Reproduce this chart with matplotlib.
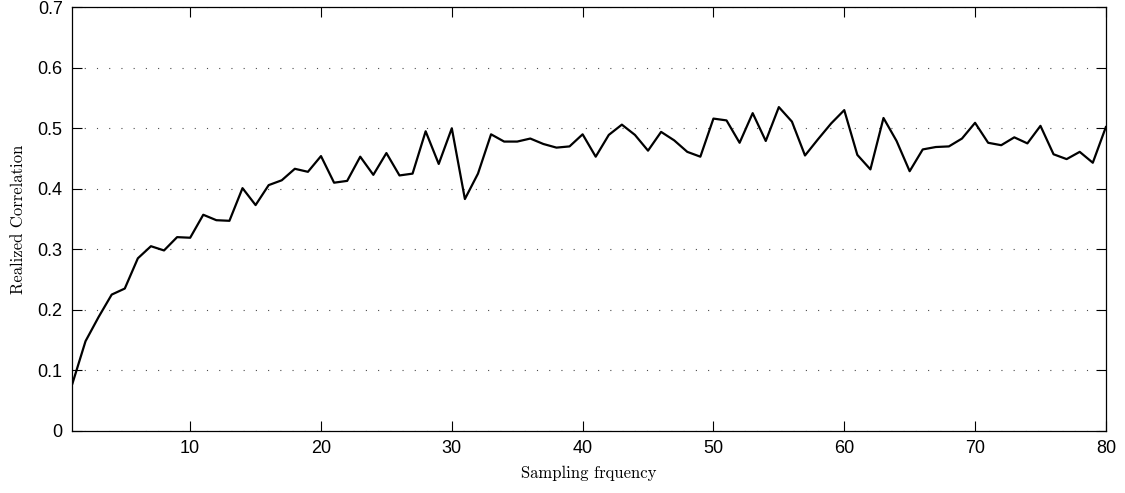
#!/usr/bin/python3

import matplotlib
matplotlib.use("Agg")
import matplotlib.pyplot as plt
import numpy as np

#sampling frequency (x axis)
freq = np.arange(1, 81)

#realized correlation
corr = [
    0.078, 0.148, 0.188, 0.225, 0.235, 0.285, 0.305, 0.298, 0.320, 0.319,
    0.357, 0.348, 0.347, 0.401, 0.373, 0.406, 0.414, 0.433, 0.428, 0.454,
    0.410, 0.413, 0.453, 0.423, 0.459, 0.422, 0.425, 0.495, 0.441, 0.500,
    0.383, 0.425, 0.490, 0.478, 0.478, 0.483, 0.474, 0.468, 0.470, 0.490,
    0.453, 0.489, 0.506, 0.489, 0.463, 0.494, 0.480, 0.461, 0.453, 0.516,
    0.513, 0.476, 0.525, 0.479, 0.535, 0.511, 0.455, 0.482, 0.508, 0.530,
    0.456, 0.432, 0.517, 0.479, 0.429, 0.465, 0.469, 0.470, 0.483, 0.509,
    0.476, 0.472, 0.485, 0.475, 0.504, 0.457, 0.449, 0.461, 0.443, 0.502,
]

xticks = [10, 20, 30, 40, 50, 60, 70, 80]
yticks = [0, 0.1, 0.2, 0.3, 0.4, 0.5, 0.6, 0.7]
yticklabels = ["0", "0.1", "0.2", "0.3", "0.4", "0.5", "0.6", "0.7"]

#_____________________________________________________________________________
def main():

    plt.rcParams["font.family"] = ["Liberation Sans", "DejaVu Sans"]

    fig = plt.figure(figsize=(11.25, 4.93), dpi=100)
    ax = fig.add_axes([0.0644, 0.1264, 0.9186, 0.8588])

    ax.plot(freq, corr, "-", color="black", lw=1.6)

    ax.set_xlim(1, 80)
    ax.set_ylim(0, 0.7)
    ax.set_xticks(xticks)
    ax.set_yticks(yticks)
    ax.set_yticklabels(yticklabels)

    #matlab style dotted grid on y only
    ax.yaxis.grid(True, color="0.3", linewidth=0.8, linestyle=(0, (1, 10)))
    ax.xaxis.grid(False)

    ax.tick_params(which="both", direction="in", top=True, right=True,
                   length=7, width=0.8, labelsize=13, pad=7)
    for s in ax.spines.values():
        s.set_linewidth(0.9)

    ax.set_xlabel("Sampling frquency", fontfamily="cmr10", fontsize=12, labelpad=6)
    ax.set_ylabel("Realized Correlation", fontfamily="cmr10", fontsize=12, labelpad=8)

    fig.savefig("out.png", dpi=100)

#main

#_____________________________________________________________________________
if __name__ == "__main__":

    main()
